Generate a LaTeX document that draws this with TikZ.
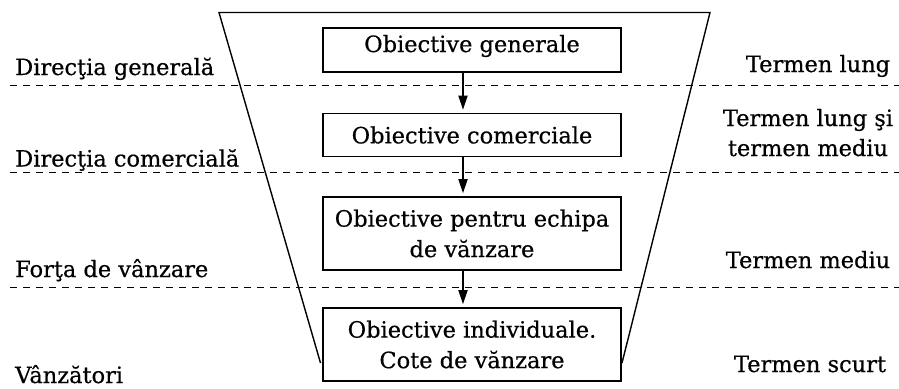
\documentclass[tikz,border=0pt]{standalone}
\usepackage{fontspec}
\setmainfont{DejaVu Serif}[FakeBold=0.5]
\usetikzlibrary{arrows.meta}
\begin{document}
\begin{tikzpicture}[x=1pt,y=-1pt,
  txt/.style={font=\fontsize{22.5}{30}\selectfont, inner sep=0pt},
  box/.style={draw, line width=1.6pt, minimum width=298pt, align=center, font=\fontsize{22.5}{30.5}\selectfont, inner sep=0pt, fill=white},
  sep/.style={line width=1.7pt, dash pattern=on 7pt off 6pt},
  edge/.style={line width=1.4pt},
  arr/.style={line width=1.8pt, -{Triangle[length=14pt,width=9pt]}, shorten >=3pt}]
\useasboundingbox (0,0) rectangle (899,388);
% funnel
\coordinate (tl) at (219,12.5);
\coordinate (tr) at (710,12.5);
\coordinate (bl) at (320.5,363);
\coordinate (br) at (622,363);
\draw[edge] (bl) -- (tl) -- (tr) -- (br);
% separators
\coordinate (s1a) at (10,85.5);  \coordinate (s1b) at (899,85.5);
\coordinate (s2a) at (10,172.5); \coordinate (s2b) at (899,172.5);
\coordinate (s3a) at (10,287.5); \coordinate (s3b) at (899,287.5);
\draw[sep] (s1a) -- (s1b);
\draw[sep] (s2a) -- (s2b);
\draw[sep] (s3a) -- (s3b);
% boxes
\node[box, minimum height=44pt, text depth=13pt] (b1) at (472,50) {Obiective generale};
\node[box, minimum height=43pt] (b2) at (472,135) {Obiective comerciale};
\node[box, minimum height=73pt] (b3) at (472,233.5) {Obiective pentru echipa\\de vănzare};
\node[box, minimum height=73pt] (b4) at (472,344.5) {Obiective individuale.\\Cote de vănzare};
% arrows
\draw[arr] ([xshift=-9pt]b1.south) -- ([xshift=-9pt]b2.north);
\draw[arr] ([xshift=-9pt]b2.south) -- ([xshift=-9pt]b3.north);
\draw[arr] ([xshift=-9pt]b3.south) -- ([xshift=-9pt]b4.north);
% left labels
\node[txt, anchor=base west] (l1) at (15,75) {Direcţia generală};
\node[txt, anchor=base west] (l2) at (15,166.5) {Direcţia comercială};
\node[txt, anchor=base west] (l3) at (15,277) {Forţa de vânzare};
\node[txt, anchor=base west] (l4) at (15,383) {Vânzători};
% right labels
\node[txt, anchor=base] (r1) at (818,72) {Termen lung};
\node[txt, anchor=base, align=center] (r2) at (808,156) {Termen lung şi\\termen mediu};
\node[txt, anchor=base] (r3) at (808,268) {Termen mediu};
\node[txt, anchor=base] (r4) at (810,372) {Termen scurt};
\end{tikzpicture}
\end{document}
